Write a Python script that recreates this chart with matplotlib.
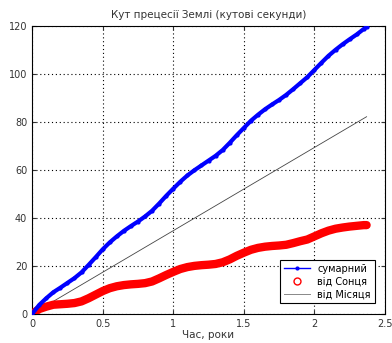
import matplotlib
matplotlib.use("Agg")
import matplotlib.pyplot as plt
from matplotlib.lines import Line2D

# time, years
t = [0.0, 0.05, 0.1, 0.15, 0.2, 0.25, 0.3, 0.35, 0.4, 0.45, 0.5, 0.55, 0.6, 0.65,
     0.7, 0.75, 0.8, 0.85, 0.9, 0.95, 1.0, 1.05, 1.1, 1.15, 1.2, 1.25, 1.3, 1.35,
     1.4, 1.45, 1.5, 1.55, 1.6, 1.65, 1.7, 1.75, 1.8, 1.85, 1.9, 1.95, 2.0, 2.05,
     2.1, 2.15, 2.2, 2.25, 2.3, 2.35, 2.37]
# from the Sun
sun = [0.0, 2.0, 3.0, 3.8, 4.0, 4.2, 4.5, 5.2, 6.5, 8.0, 9.5, 10.7, 11.5, 12.0,
       12.3, 12.5, 12.8, 13.5, 14.8, 16.2, 17.5, 18.7, 19.5, 20.0, 20.3, 20.5, 20.8, 21.5,
       22.7, 24.2, 25.5, 26.7, 27.5, 28.0, 28.3, 28.5, 28.8, 29.5, 30.3, 31.0, 32.3, 33.6,
       34.7, 35.5, 36.0, 36.4, 36.7, 37.0, 37.0]
# total
total = [0.0, 3.7, 6.5, 9.0, 10.9, 12.9, 14.9, 17.3, 20.4, 23.6, 26.9, 29.8, 32.3, 34.6,
         36.6, 38.5, 40.6, 43.0, 46.0, 49.2, 52.2, 55.1, 57.7, 59.9, 61.9, 63.9, 65.9, 68.3,
         71.3, 74.5, 77.5, 80.5, 83.0, 85.3, 87.3, 89.2, 91.3, 93.7, 96.2, 98.7, 101.7, 104.7,
         107.6, 110.1, 112.4, 114.5, 116.5, 118.8, 119.6]
# from the Moon (straight line)
t_moon = [0.0, 2.37]
moon = [0.0, 82.2]

plt.rcParams['font.family'] = ['DejaVu Sans']
plt.rcParams['font.size'] = 7

fig = plt.figure(figsize=(3.92, 3.43), dpi=100)
ax = fig.add_axes([0.082, 0.085, 0.9, 0.839])

ax.plot(t, sun, color='red', linewidth=6, solid_capstyle='round', zorder=3)
ax.plot(t_moon, moon, color='#444444', linewidth=0.6, zorder=2)
ax.plot(t, total, color='blue', linewidth=3, marker='.', markersize=4, zorder=4)

ax.set_xlim(0, 2.5)
ax.set_ylim(0, 120)
ax.set_xticks([0, 0.5, 1, 1.5, 2, 2.5])
ax.set_xticklabels(['0', '0.5', '1', '1.5', '2', '2.5'])
ax.set_yticks([0, 20, 40, 60, 80, 100, 120])
ax.tick_params(direction='in', top=True, right=True, length=3, colors='#333333', labelsize=7)
ax.grid(True, linestyle=(0, (1, 2.5)), color='black', linewidth=0.8)

ax.set_title("Кут прецесії Землі (кутові секунди)", fontsize=7.5, color='#333333', pad=6)
ax.set_xlabel("Час, роки", fontsize=7.5, color='#333333', labelpad=1)

handles = [
    Line2D([], [], color='blue', linewidth=1, marker='.', markersize=4),
    Line2D([], [], color='red', linestyle='none', marker='o', markerfacecolor='none', markersize=5),
    Line2D([], [], color='#888888', linewidth=0.7),
]
labels = ["сумарний", "від Сонця", "від Місяця"]
leg = ax.legend(handles, labels, loc='lower right', bbox_to_anchor=(0.985, 0.02),
                fancybox=False, edgecolor='black', fontsize=7, handlelength=2.6,
                borderpad=0.4, labelspacing=0.3, framealpha=1)
leg.get_frame().set_linewidth(0.8)

fig.savefig("out.png", dpi=100)
